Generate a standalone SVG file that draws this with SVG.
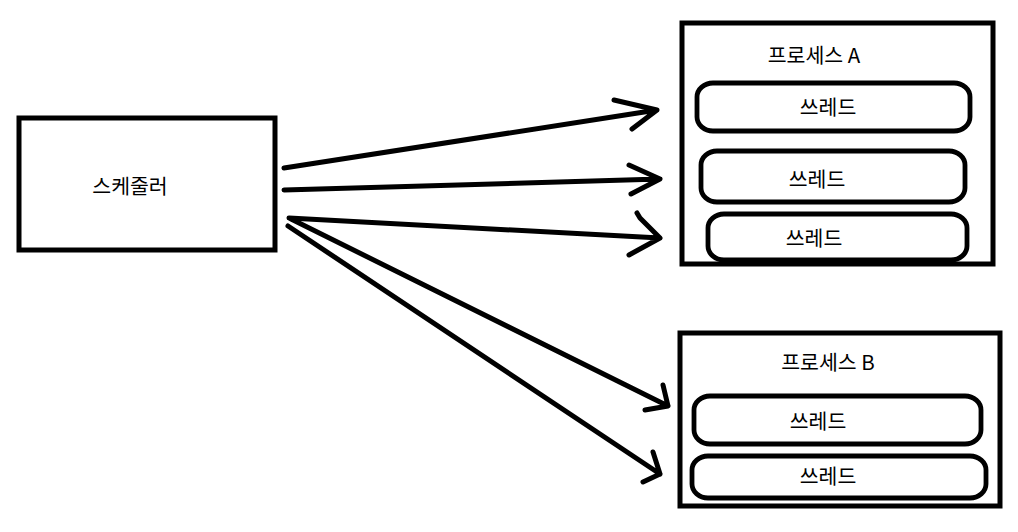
<svg xmlns="http://www.w3.org/2000/svg" width="1018" height="532" viewBox="0 0 1018 532">
<style>
.box{fill:#fff;stroke:#000;stroke-width:5}
.thr{fill:#fff;stroke:#000;stroke-width:4.8}
.t{font-family:"Noto Sans CJK KR","Liberation Sans",sans-serif;font-size:20.5px;fill:#000;text-anchor:middle;dominant-baseline:central}
.c{fill:none;stroke:#000;stroke-width:5;stroke-linecap:round;stroke-linejoin:round}
</style>
<rect width="1018" height="532" fill="#fff"/>
<g id="scheduler">
<rect class="box" x="19" y="118" width="256" height="132"/>
<text class="t" x="130" y="185">스케줄러</text>
</g>
<g id="processA">
<rect class="box" x="682" y="23" width="311" height="241"/>
<text class="t" x="814" y="54">프로세스 A</text>
<g id="threadA1"><rect class="thr" x="697" y="83" width="273" height="48" rx="16" ry="14"/><text class="t" x="828" y="106">쓰레드</text></g>
<g id="threadA2"><rect class="thr" x="701" y="151" width="264" height="51" rx="16" ry="14"/><text class="t" x="817" y="178">쓰레드</text></g>
<g id="threadA3"><rect class="thr" x="708" y="214" width="259" height="46" rx="16" ry="14"/><text class="t" x="814" y="237">쓰레드</text></g>
</g>
<g id="processB">
<rect class="box" x="680" y="333" width="320" height="173"/>
<text class="t" x="828" y="361">프로세스 B</text>
<g id="threadB1"><rect class="thr" x="694" y="396" width="287" height="48" rx="16" ry="14"/><text class="t" x="818" y="420">쓰레드</text></g>
<g id="threadB2"><rect class="thr" x="692" y="456" width="294" height="42" rx="16" ry="14"/><text class="t" x="828" y="475">쓰레드</text></g>
</g>
<g id="connectors">
<path class="c" d="M284 168 L657 110 M614 100 L657 110 L632 129"/>
<path class="c" d="M284 190 L660 179 M629 165 L660 179 L631 194"/>
<path class="c" d="M289 218 L660 238 M637 213 L640 218 L660 238 L629 255"/>
<path class="c" d="M291 219 L668 406 M663 385 L668 406 L645 410"/>
<path class="c" d="M288 226 L660 474 M653 452 L660 474 L643 482"/>
</g>
</svg>
